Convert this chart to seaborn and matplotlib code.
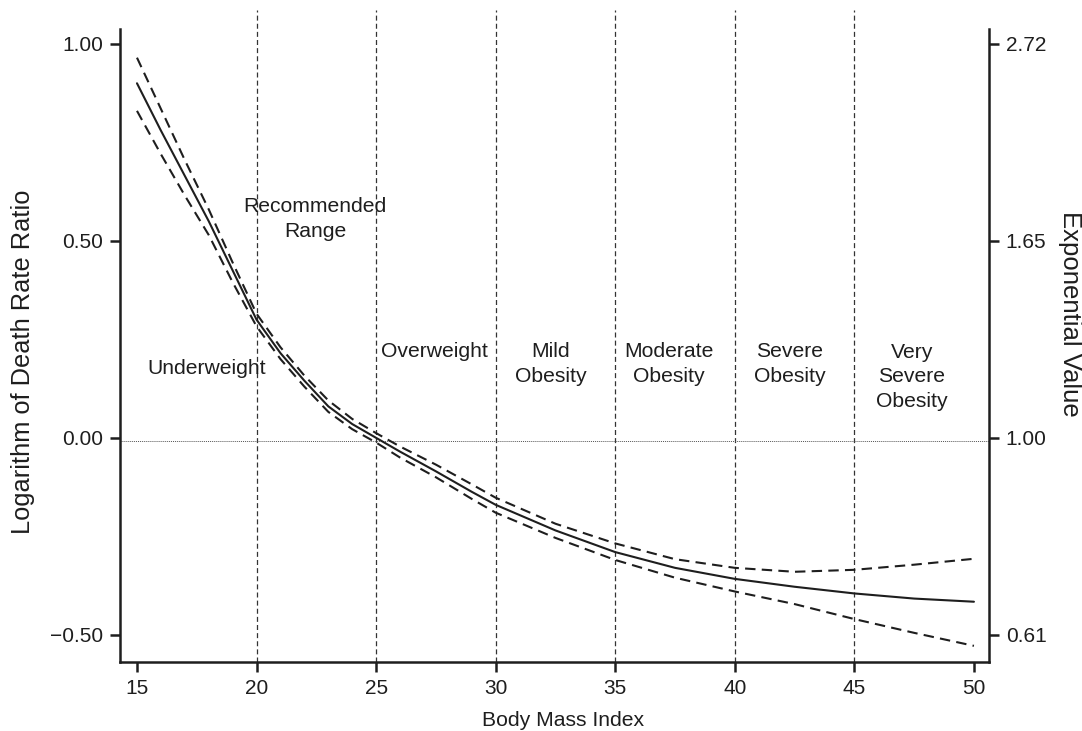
import numpy as np
import pandas as pd
import matplotlib
matplotlib.use("Agg")
import matplotlib.pyplot as plt
import seaborn as sns

# Body mass index grid
bmi = [15, 16, 17, 18, 19, 20, 21, 22, 23, 24, 25, 26, 27.5, 29, 30, 32.5, 35, 37.5, 40, 42.5, 45, 47.5, 50]

# log death rate ratio: estimate and confidence bounds
log_ratio = [0.90, 0.78, 0.665, 0.55, 0.425, 0.30, 0.215, 0.145, 0.08, 0.035, 0.0, -0.035,
             -0.085, -0.137, -0.17, -0.235, -0.29, -0.33, -0.358, -0.378, -0.395, -0.408, -0.416]
upper = [0.965, 0.835, 0.705, 0.58, 0.445, 0.315, 0.23, 0.158, 0.095, 0.048, 0.012, -0.022,
         -0.068, -0.118, -0.152, -0.218, -0.268, -0.308, -0.33, -0.34, -0.335, -0.322, -0.307]
lower = [0.83, 0.72, 0.615, 0.515, 0.395, 0.283, 0.20, 0.13, 0.066, 0.022, -0.012, -0.05,
         -0.10, -0.155, -0.19, -0.254, -0.31, -0.355, -0.39, -0.422, -0.46, -0.495, -0.528]

# category boundaries and labels
boundaries = [20, 25, 30, 35, 40, 45]
categories = ["Underweight", "Recommended\nRange", "Overweight", "Mild\nObesity",
              "Moderate\nObesity", "Severe\nObesity", "Very\nSevere\nObesity"]
label_x = [17.9, 22.45, 27.45, 32.3, 37.25, 42.3, 47.4]
label_y = [0.175, 0.555, 0.22, 0.188, 0.188, 0.188, 0.155]

left_ticks = [1.0, 0.5, 0.0, -0.5]
right_labels = ["2.72", "1.65", "1.00", "0.61"]  # exp of the left ticks

sns.set_theme(style="ticks")
plt.rcParams['font.family'] = ['Liberation Sans', 'DejaVu Sans']

ink = "#1e1e1e"
df = pd.DataFrame({"bmi": bmi, "est": log_ratio, "hi": upper, "lo": lower})

fig = plt.figure(figsize=(10.82, 7.31), dpi=100)
ax = fig.add_axes([120 / 1082, 1 - 662 / 731, 869 / 1082, 652 / 731])

ylo, yhi = -0.569, 1.086
xlo, xhi = 14.29, 50.63

# reference lines
for b in boundaries:
    ax.plot([b, b], [ylo, yhi], color="#333333", lw=0.9, ls=(0, (4, 2.5)), zorder=1)
ax.plot([xlo, xhi], [-0.008, -0.008], color="#555555", lw=0.7, ls=(0, (1, 1)), zorder=1)

sns.lineplot(data=df, x="bmi", y="est", ax=ax, color=ink, lw=1.5, zorder=3)
sns.lineplot(data=df, x="bmi", y="hi", ax=ax, color=ink, lw=1.5, ls=(0, (5, 3)), zorder=3)
sns.lineplot(data=df, x="bmi", y="lo", ax=ax, color=ink, lw=1.5, ls=(0, (5, 3)), zorder=3)

for txt, tx, ty in zip(categories, label_x, label_y):
    ax.text(tx, ty, txt, ha="center", va="center", fontsize=15.2, color=ink,
            linespacing=1.38, zorder=4)

ax.set_xlim(xlo, xhi)
ax.set_ylim(ylo, yhi)
ax.set_xticks([15, 20, 25, 30, 35, 40, 45, 50])
ax.set_yticks(left_ticks)
ax.set_yticklabels([f"{v:.2f}".replace("-", "\u2212") for v in left_ticks])
ax.set_xlabel("Body Mass Index", fontsize=15.2, color=ink)
ax.set_ylabel("Logarithm of Death Rate Ratio", fontsize=18.3, color=ink)
ax.xaxis.set_label_coords(0.510, -0.089)
ax.xaxis.label.set_va("center")
ax.yaxis.set_label_coords(-0.1116, 0.460)
ax.yaxis.label.set_va("center")

ax2 = ax.twinx()
ax2.set_ylim(ylo, yhi)
ax2.set_yticks(left_ticks)
ax2.set_yticklabels(right_labels)
ax2.set_ylabel("Exponential Value", fontsize=18.5, color=ink, rotation=270)
ax2.yaxis.set_label_coords(1.0932, 0.534)
ax2.yaxis.label.set_va("center")

for a in (ax, ax2):
    a.spines["top"].set_visible(False)
    for s in ("left", "right", "bottom"):
        a.spines[s].set_linewidth(1.8)
        a.spines[s].set_color(ink)
    a.spines["left"].set_bounds(ylo, 1.038)
    a.spines["right"].set_bounds(ylo, 1.038)
    a.tick_params(axis="both", direction="out", length=7, width=1.8,
                  colors=ink, labelsize=15, pad=5)
ax.spines["right"].set_visible(False)
ax2.spines["left"].set_visible(False)
ax2.spines["bottom"].set_visible(False)
ax2.grid(False)
ax.grid(False)

fig.savefig("out.png", dpi=100)
